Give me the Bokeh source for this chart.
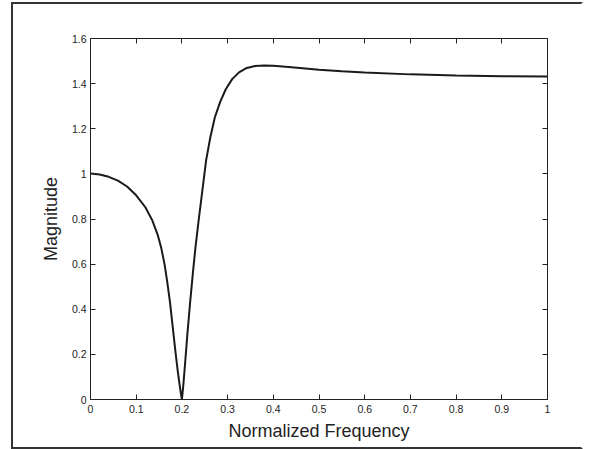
from bokeh.plotting import figure
from bokeh.models import Range1d, LinearAxis, FixedTicker, CustomJSTickFormatter
from bokeh.embed import file_html
from bokeh.resources import INLINE

# Data
freq = [0.0, 0.02, 0.04, 0.06, 0.08, 0.10, 0.12, 0.135, 0.147, 0.155, 0.162, 0.168,
        0.174, 0.180, 0.186, 0.191, 0.195, 0.198, 0.200,
        0.203, 0.207, 0.212, 0.218, 0.224, 0.230, 0.237, 0.245, 0.253, 0.262, 0.272,
        0.284, 0.296, 0.310, 0.325, 0.340, 0.360, 0.380, 0.400, 0.440, 0.500, 0.550,
        0.600, 0.700, 0.800, 0.900, 1.000]
magnitude = [1.002, 0.997, 0.987, 0.970, 0.944, 0.905, 0.852, 0.795, 0.730, 0.670, 0.600, 0.520,
             0.430, 0.320, 0.210, 0.125, 0.065, 0.025, 0.0,
             0.06, 0.16, 0.29, 0.43, 0.56, 0.68, 0.80, 0.93, 1.06, 1.16, 1.25,
             1.32, 1.375, 1.42, 1.450, 1.468, 1.478, 1.480, 1.479, 1.473, 1.462, 1.455,
             1.449, 1.441, 1.436, 1.433, 1.432]

x_ticks = [0, 0.1, 0.2, 0.3, 0.4, 0.5, 0.6, 0.7, 0.8, 0.9, 1]
x_tick_labels = ["0", "0.1", "0.2", "0.3", "0.4", "0.5", "0.6", "0.7", "0.8", "0.9", "1"]
y_ticks = [0, 0.2, 0.4, 0.6, 0.8, 1, 1.2, 1.4, 1.6]
y_tick_labels = ["0", "0.2", "0.4", "0.6", "0.8", "1", "1.2", "1.4", "1.6"]

FONT = "Liberation Sans"
INK = "#222222"

p = figure(width=572, height=447, output_backend="svg", toolbar_location=None,
           x_range=Range1d(0, 1), y_range=Range1d(0, 1.6),
           min_border_left=77, min_border_right=38, min_border_top=34, min_border_bottom=52)
p.margin = (2, 0, 0, 11)
p.styles = {"border-left": "2px solid #333333", "border-top": "2px solid #333333",
            "border-bottom": "2px solid #333333", "border-right": "2px solid #ffffff",
            "outline": "none", "box-shadow": "none"}
p.background_fill_color = "white"
p.border_fill_color = "white"
p.outline_line_color = INK
p.outline_line_width = 1
p.xgrid.visible = False
p.ygrid.visible = False

p.line(freq, magnitude, line_color="#1a1a1a", line_width=2)

def style(ax, ticks, labels):
    ax.ticker = FixedTicker(ticks=ticks)
    ax.major_label_overrides = {t: l for t, l in zip(ticks, labels)}
    ax.major_tick_in = 5
    ax.major_tick_out = 0
    ax.minor_tick_line_color = None
    ax.axis_line_color = INK
    ax.major_tick_line_color = INK
    ax.major_label_text_font = FONT
    ax.major_label_text_font_size = "10.5px"
    ax.major_label_text_color = INK
    ax.axis_label_text_font = FONT
    ax.axis_label_text_font_size = "18px"
    ax.axis_label_text_font_style = "normal"
    ax.axis_label_text_color = INK

style(p.xaxis[0], x_ticks, x_tick_labels)
style(p.yaxis[0], y_ticks, y_tick_labels)
p.xaxis[0].axis_label = "Normalized Frequency"
p.yaxis[0].axis_label = "Magnitude"
p.xaxis[0].major_label_standoff = 5
p.yaxis[0].major_label_standoff = 4
p.xaxis[0].axis_label_standoff = 5
p.yaxis[0].axis_label_standoff = 8

blank = CustomJSTickFormatter(code="return ''")
top = LinearAxis(ticker=FixedTicker(ticks=x_ticks), formatter=blank,
                 major_tick_in=5, major_tick_out=0, minor_tick_line_color=None,
                 axis_line_color=INK, major_tick_line_color=INK)
right = LinearAxis(ticker=FixedTicker(ticks=y_ticks), formatter=blank,
                   major_tick_in=5, major_tick_out=0, minor_tick_line_color=None,
                   axis_line_color=INK, major_tick_line_color=INK)
p.add_layout(top, "above")
p.add_layout(right, "right")

open("out.html", "w").write(file_html(p, INLINE))
